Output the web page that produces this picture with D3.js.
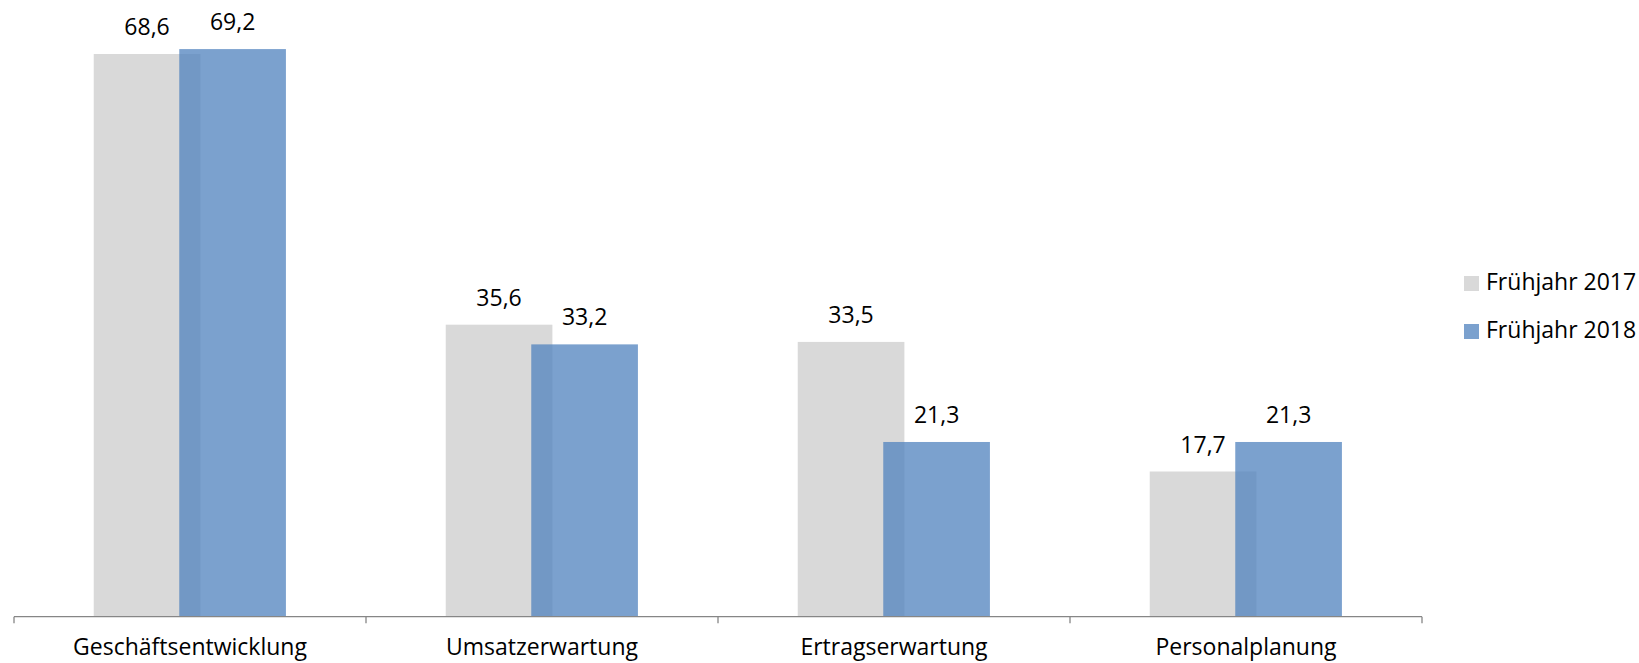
<!DOCTYPE html>
<html><head><meta charset="utf-8">
<script src="https://cdn.jsdelivr.net/npm/d3@7"></script>
<style>html,body{margin:0;padding:0;background:#fff;}svg{display:block;}</style>
</head><body>
<script>
const categories = ["Geschäftsentwicklung", "Umsatzerwartung", "Ertragserwartung", "Personalplanung"];
const seriesNames = ["Frühjahr 2017", "Frühjahr 2018"];
const values2017 = [68.6, 35.6, 33.5, 17.7];
const values2018 = [69.2, 33.2, 21.3, 21.3];
const seriesColors = ["#D9D9D9", "#4F81BD"];
const seriesOpacity = [1, 0.75];

const W = 1639, H = 663;
const font = "'Open Sans', sans-serif";
const fs = 23;
const svg = d3.select("body").append("svg").attr("width", W).attr("height", H);

const x = d3.scaleBand().domain(categories).range([14, 1422]).padding(0);
const inner = d3.scalePoint().domain(seriesNames).range([0.378, 0.621]);
const barW = x.bandwidth() * 0.303;
const y = d3.scaleLinear().domain([0, 68.6]).range([616.7, 54]);

const data = [values2017, values2018];
data.forEach((vals, si) => {
  const g = svg.append("g");
  g.selectAll("rect").data(vals).enter().append("rect")
    .attr("x", (d, i) => x(categories[i]) + inner(seriesNames[si]) * x.bandwidth() - barW / 2)
    .attr("y", d => y(d))
    .attr("width", barW)
    .attr("height", d => y(0) - y(d))
    .attr("fill", seriesColors[si])
    .attr("fill-opacity", seriesOpacity[si]);
});
data.forEach((vals, si) => {
  svg.append("g").selectAll("text").data(vals).enter().append("text")
    .attr("x", (d, i) => x(categories[i]) + inner(seriesNames[si]) * x.bandwidth())
    .attr("y", d => y(d) - 19)
    .attr("text-anchor", "middle")
    .attr("font-family", font).attr("font-size", fs).attr("fill", "#000")
    .text(d => d3.format(".1f")(d).replace(".", ","));
});

// axis
const axisG = svg.append("g").attr("transform", `translate(0,${y(0)})`);
axisG.append("line").attr("x1", 14).attr("x2", 1422).attr("y1", 0).attr("y2", 0)
  .attr("stroke", "#868686").attr("stroke-width", 1.3);
const tickPos = categories.map(c => x(c)).concat([x(categories[categories.length - 1]) + x.bandwidth()]);
axisG.selectAll("line.tick").data(tickPos).enter().append("line")
  .attr("x1", d => d).attr("x2", d => d).attr("y1", 0).attr("y2", 6.5)
  .attr("stroke", "#868686").attr("stroke-width", 1.3);
axisG.selectAll("text").data(categories).enter().append("text")
  .attr("x", d => x(d) + x.bandwidth() / 2)
  .attr("y", 38.5)
  .attr("text-anchor", "middle")
  .attr("font-family", font).attr("font-size", fs).attr("fill", "#000")
  .text(d => d);

// legend
const leg = svg.append("g");
seriesNames.forEach((s, i) => {
  leg.append("rect").attr("x", 1464).attr("y", 276 + i * 48).attr("width", 15).attr("height", 15)
    .attr("fill", seriesColors[i]).attr("fill-opacity", seriesOpacity[i]);
  leg.append("text").attr("x", 1486).attr("y", 290 + i * 48)
    .attr("font-family", font).attr("font-size", fs).attr("fill", "#000").text(s);
});
</script>
</body></html>
